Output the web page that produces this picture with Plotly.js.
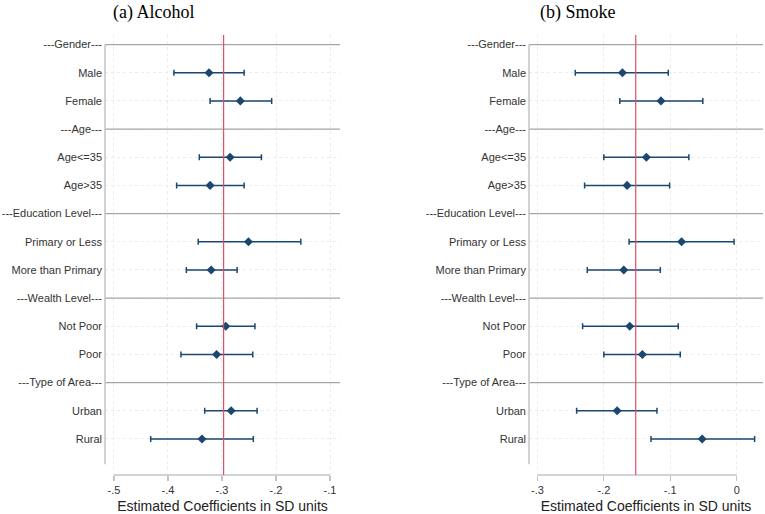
<!DOCTYPE html>
<html>
<head>
<meta charset="utf-8">
<script src="https://cdn.plot.ly/plotly-3.0.1.min.js"></script>
<style>html,body{margin:0;padding:0;background:#fff;}#chart{width:765px;height:514px;}</style>
</head>
<body>
<div id="chart"></div>
<script>
// ---- data ----
const rowLabels = ["---Gender---","Male","Female","---Age---","Age<=35","Age>35",
  "---Education Level---","Primary or Less","More than Primary",
  "---Wealth Level---","Not Poor","Poor","---Type of Area---","Urban","Rural"];
const headerLabels = ["---Gender---","---Age---","---Education Level---","---Wealth Level---","---Type of Area---"];
const categories = ["Male","Female","Age<=35","Age>35","Primary or Less","More than Primary","Not Poor","Poor","Urban","Rural"];

const alcoholCoef = [-0.324,-0.266,-0.285,-0.322,-0.251,-0.320,-0.293,-0.310,-0.283,-0.337];
const alcoholLow  = [-0.389,-0.322,-0.342,-0.384,-0.344,-0.366,-0.347,-0.376,-0.332,-0.432];
const alcoholHigh = [-0.259,-0.208,-0.227,-0.259,-0.154,-0.272,-0.239,-0.243,-0.235,-0.242];
const alcoholRef = -0.297;

const smokeCoef = [-0.172,-0.114,-0.136,-0.165,-0.083,-0.170,-0.161,-0.142,-0.180,-0.052];
const smokeLow  = [-0.243,-0.176,-0.200,-0.229,-0.162,-0.225,-0.232,-0.200,-0.241,-0.129];
const smokeHigh = [-0.103,-0.051,-0.072,-0.101,-0.004,-0.115,-0.088,-0.085,-0.120,0.027];
const smokeRef = -0.152;

const alcoholTicks = [-0.5,-0.4,-0.3,-0.2,-0.1];
const alcoholTickText = ["-.5","-.4","-.3","-.2","-.1"];
const smokeTicks = [-0.3,-0.2,-0.1,0];
const smokeTickText = ["-.3","-.2","-.1","0"];

const titles = ["(a) Alcohol","(b) Smoke"];
const xTitle = "Estimated Coefficients in SD units";

// ---- styles ----
const NAVY = "#1a476f";
const RED = "#dc4f68";
const GRID = "#ececec";
const AXIS = "#c4c4c4";
const HEAD = "#a6a6a6";
const TXT = "#333333";
const SANS = "Liberation Sans, Arial, sans-serif";
const SERIF = "Liberation Serif, Times New Roman, serif";

const yPos = categories.map(c => rowLabels.indexOf(c));
const rowIdx = rowLabels.map((_, i) => i);

function trace(coef, lo, hi, xa, ya) {
  return {
    type: "scatter", mode: "markers",
    x: coef, y: yPos, xaxis: xa, yaxis: ya,
    marker: {symbol: "diamond", size: 7, color: NAVY},
    error_x: {type: "data", symmetric: false,
      array: hi.map((h, i) => h - coef[i]),
      arrayminus: lo.map((l, i) => coef[i] - l),
      color: NAVY, thickness: 1.5, width: 3},
    hoverinfo: "x+y", showlegend: false
  };
}

const data = [
  trace(alcoholCoef, alcoholLow, alcoholHigh, "x", "y"),
  trace(smokeCoef, smokeLow, smokeHigh, "x2", "y2")
];

const yRange = [15.28, -0.34];
function yaxis() {
  return {
    domain: [0, 1], range: yRange, tickmode: "array", tickvals: rowIdx, ticktext: rowLabels,
    showline: false, zeroline: false, ticks: "", showgrid: true, gridcolor: GRID, griddash: "dot",
    gridwidth: 1, ticklabelstandoff: 2,
    tickfont: {family: SANS, size: 11, color: TXT}, automargin: false, fixedrange: true
  };
}
function xaxis(dom, range, tv, tt, anchor) {
  return {
    domain: dom, range: range, anchor: anchor, tickmode: "array", tickvals: tv, ticktext: tt,
    showline: false, zeroline: false, ticks: "outside", ticklen: 5, tickcolor: AXIS, tickwidth: 1.2,
    showgrid: true, gridcolor: GRID, griddash: "dot", gridwidth: 1,
    tickfont: {family: SANS, size: 11, color: TXT}, automargin: false,
    title: {text: xTitle, font: {family: SANS, size: 14, color: "#222"}, standoff: 6},
    fixedrange: true
  };
}

const shapes = [];
function addPanelShapes(xr, yr, ticks, ref) {
  headerLabels.forEach(h => {
    const yi = rowLabels.indexOf(h);
    shapes.push({type: "line", xref: xr + " domain", yref: yr, x0: 0, x1: 1, y0: yi, y1: yi,
      line: {color: HEAD, width: 1.3}, layer: "above"});
  });
  shapes.push({type: "line", xref: xr + " domain", yref: yr, x0: 0, x1: 0, y0: 0, y1: 14.9,
    line: {color: AXIS, width: 1.5}, layer: "above"});
  shapes.push({type: "line", xref: xr, yref: yr + " domain", x0: ticks[0], x1: ticks[ticks.length - 1], y0: 0, y1: 0,
    line: {color: AXIS, width: 1.5}, layer: "above"});
  shapes.push({type: "line", xref: xr, yref: yr + " domain", x0: ref, x1: ref, y0: 0, y1: 1,
    line: {color: RED, width: 1.2}, layer: "above"});
}
addPanelShapes("x", "y", alcoholTicks, alcoholRef);
addPanelShapes("x2", "y2", smokeTicks, smokeRef);

const layout = {
  width: 765, height: 514,
  margin: {l: 0, r: 0, t: 35, b: 39, pad: 0},
  paper_bgcolor: "#fff", plot_bgcolor: "rgba(0,0,0,0)",
  showlegend: false,
  xaxis: xaxis([105/765, 340/765], [-0.5166, -0.0815], alcoholTicks, alcoholTickText, "y"),
  yaxis: Object.assign(yaxis(), {anchor: "x"}),
  xaxis2: xaxis([529/765, 763/765], [-0.3127, 0.0396], smokeTicks, smokeTickText, "y2"),
  yaxis2: Object.assign(yaxis(), {anchor: "x2"}),
  shapes: shapes,
  annotations: [
    {text: titles[0], xref: "paper", yref: "paper", x: 153.5/765, y: (475 - 12)/440,
     xanchor: "center", yanchor: "middle", showarrow: false, font: {family: SERIF, size: 18, color: "#000"}},
    {text: titles[1], xref: "paper", yref: "paper", x: 578/765, y: (475 - 12)/440,
     xanchor: "center", yanchor: "middle", showarrow: false, font: {family: SERIF, size: 18, color: "#000"}}
  ]
};

Plotly.newPlot("chart", data, layout, {displayModeBar: false, staticPlot: true});
</script>
</body>
</html>
